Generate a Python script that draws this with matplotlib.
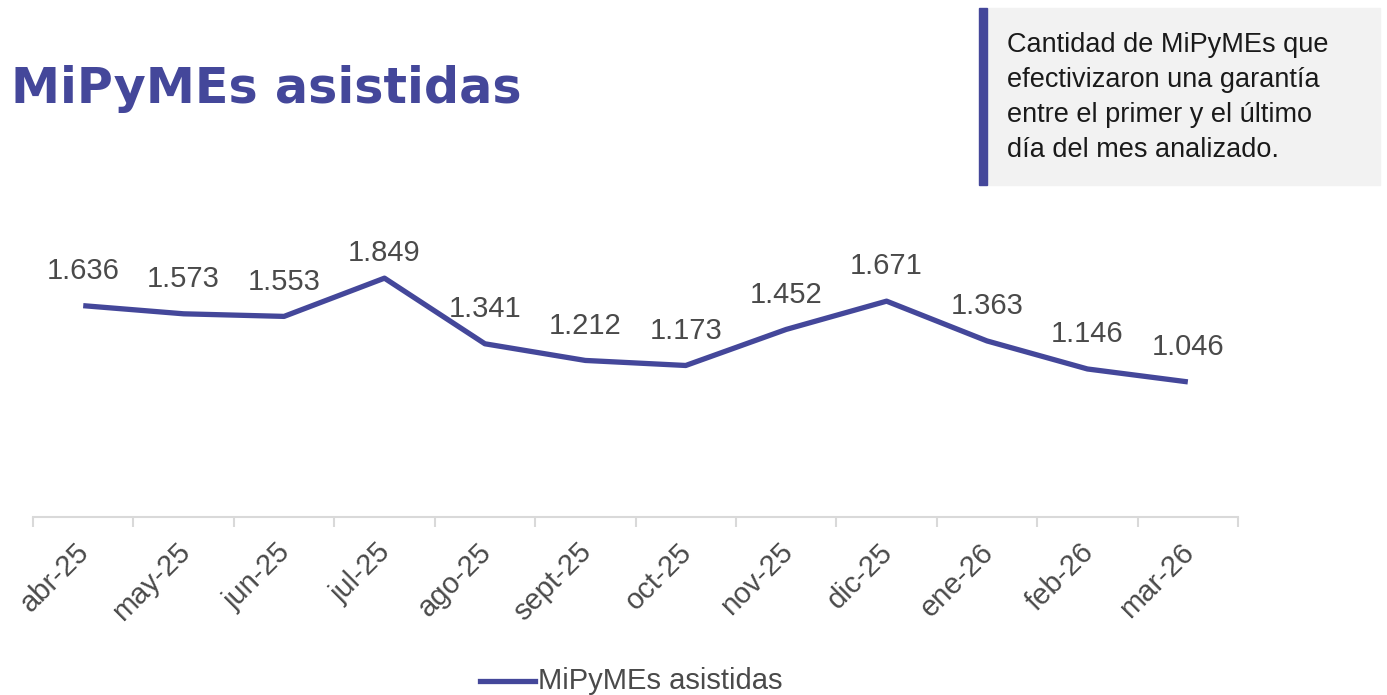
import matplotlib.pyplot as plt
from matplotlib.patches import Rectangle
from matplotlib.lines import Line2D
from matplotlib.transforms import ScaledTranslation

months = ["abr-25", "may-25", "jun-25", "jul-25", "ago-25", "sept-25",
          "oct-25", "nov-25", "dic-25", "ene-26", "feb-26", "mar-26"]
assisted = [1636, 1573, 1553, 1849, 1341, 1212, 1173, 1452, 1671, 1363, 1146, 1046]
value_labels = ["1.636", "1.573", "1.553", "1.849", "1.341", "1.212",
                "1.173", "1.452", "1.671", "1.363", "1.146", "1.046"]

purple = "#44479A"
grey_text = "#4a4a4a"
plt.rcParams["font.family"] = ["Liberation Sans", "DejaVu Sans"]

fig = plt.figure(figsize=(13.87, 6.95), dpi=100)
ax = fig.add_axes([0.0238, 0.2561, 0.8688, 0.4275])

x = list(range(len(months)))
ax.plot(x, assisted, color=purple, linewidth=3.8, solid_capstyle="butt")
for xi, v, lab in zip(x, assisted, value_labels):
    # the peak label sits closer to the line (plot area clipped in the original)
    off = 18 if v == max(assisted) else 25
    ax.annotate(lab, (xi, v), xytext=(0, off), textcoords="offset points",
                ha="center", va="center", fontsize=21, color=grey_text)

ax.set_xlim(-0.5, len(months) - 0.5)
ax.set_ylim(0, 2300)
ax.set_yticks([])
for s in ["top", "right", "left"]:
    ax.spines[s].set_visible(False)
ax.spines["bottom"].set_color("#D9D9D9")
ax.spines["bottom"].set_linewidth(1.5)

ax.set_xticks([i - 0.5 for i in range(len(months) + 1)], minor=False)
ax.set_xticklabels([])
ax.tick_params(axis="x", which="major", length=7, width=1.5, color="#D9D9D9")
ax.set_xticks(x, minor=True)
ax.set_xticklabels(months, minor=True, rotation=45, ha="right",
                   rotation_mode="anchor", fontsize=21, color=grey_text)
ax.tick_params(axis="x", which="minor", length=0, pad=15)
shift = ScaledTranslation(-8 / 100, 0, fig.dpi_scale_trans)
for lbl in ax.get_xticklabels(minor=True):
    lbl.set_transform(lbl.get_transform() + shift)

# title
fig.text(0.008, 0.872, "MiPyMEs asistidas", fontsize=35.5, fontweight="bold",
         color=purple, family=["DejaVu Sans"], va="center")

# note box
fig.patches.append(Rectangle((988 / 1387, 1 - 185 / 695), 392 / 1387, 177 / 695,
                             transform=fig.transFigure, color="#F2F2F2", zorder=0))
fig.patches.append(Rectangle((979 / 1387, 1 - 185 / 695), 8 / 1387, 177 / 695,
                             transform=fig.transFigure, color=purple, zorder=1))
note = ["Cantidad de MiPyMEs que", "efectivizaron una garantía",
        "entre el primer y el último", "día del mes analizado."]
for i, line in enumerate(note):
    fig.text(1007 / 1387, 1 - (45 + i * 35) / 695, line, fontsize=19.5,
             color="#1a1a1a", va="center")

# legend
fig.lines.append(Line2D([480 / 1387, 535 / 1387], [1 - 681 / 695, 1 - 681 / 695],
                        transform=fig.transFigure, color=purple, linewidth=3.8))
fig.text(538 / 1387, 1 - 681 / 695, "MiPyMEs asistidas", fontsize=21,
         color=grey_text, va="center")

fig.savefig("out.png", dpi=100)
